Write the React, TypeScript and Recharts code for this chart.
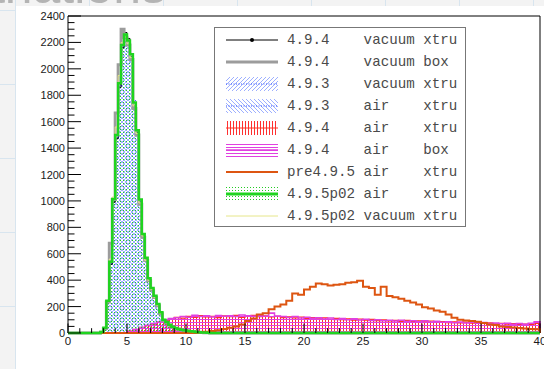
import React from 'react';
import { Area, ComposedChart, Legend, Line, ReferenceArea, XAxis, YAxis } from 'recharts';

const X_LABELS = [0, 5, 10, 15, 20, 25, 30, 35, 40];
const Y_LABELS = [0, 200, 400, 600, 800, 1000, 1200, 1400, 1600, 1800, 2000, 2200, 2400];
const X_MINOR = 1;
const Y_MINOR = 50;

// narrow peak, 0.25 wide bins from 2.75
const PEAK_START = 2.75;
const PEAK_BIN = 0.25;
const v494VacXtru = [6, 35, 230, 520, 990, 1470, 1860, 2160, 2275, 2230, 2090, 1720, 1520, 990, 735, 555, 405, 332, 276, 212, 150, 96, 80, 60, 45, 36, 30, 24, 20, 16, 12, 10, 8, 6, 4, 3, 2];
const v494VacBox = [6, 35, 235, 680, 1010, 1665, 2030, 2300, 2235, 2180, 2070, 1700, 1500, 975, 725, 548, 395, 326, 268, 206, 146, 94, 78, 58, 43, 35, 28, 22, 18, 14, 11, 9, 7, 5, 3, 2, 1];
const v493VacXtru = [6, 36, 232, 525, 995, 1480, 1870, 2165, 2245, 2205, 2100, 1760, 1525, 1000, 742, 562, 410, 336, 278, 216, 154, 98, 82, 61, 46, 37, 30, 24, 20, 16, 12, 10, 8, 6, 4, 3, 2];
const v493AirXtru = [5, 34, 228, 520, 990, 1475, 1865, 2160, 2240, 2200, 2095, 1735, 1515, 995, 738, 558, 405, 333, 275, 212, 150, 97, 80, 60, 45, 36, 29, 23, 19, 15, 11, 9, 7, 5, 3, 2, 1];
const v495p02AirXtru = [8, 40, 245, 540, 1015, 1500, 1890, 2180, 2260, 2215, 2110, 1745, 1535, 1010, 750, 570, 415, 340, 282, 220, 158, 100, 84, 63, 47, 38, 31, 25, 21, 17, 13, 11, 8, 6, 4, 3, 2];
const v495p02VacXtru = [6, 38, 240, 560, 1030, 1560, 1950, 2200, 2240, 2190, 2085, 1720, 1510, 985, 735, 550, 400, 330, 272, 210, 150, 95, 80, 60, 44, 35, 28, 22, 18, 14, 11, 9, 7, 5, 3, 2, 1];

// broad air distributions, 0.5 wide bins
const WIDE_BIN = 0.5;
const AIR_START = 5;
const v494AirXtru = [14, 28, 42, 55, 68, 82, 96, 104, 118, 112, 126, 118, 131, 122, 127, 116, 129, 124, 133, 119, 128, 134, 124, 129, 121, 126, 116, 123, 114, 121, 110, 117, 107, 114, 104, 111, 101, 108, 98, 106, 97, 103, 93, 99, 91, 96, 88, 95, 87, 92, 85, 91, 83, 87, 79, 85, 77, 83, 75, 80, 73, 77, 69, 73, 67, 71, 65, 68, 63, 72];
const v494AirBox = [12, 25, 40, 58, 72, 85, 100, 110, 115, 124, 120, 134, 125, 130, 121, 133, 126, 131, 124, 137, 130, 126, 135, 127, 152, 129, 124, 118, 125, 113, 120, 112, 116, 106, 113, 103, 110, 100, 107, 99, 104, 95, 101, 93, 97, 90, 96, 88, 93, 86, 92, 84, 89, 81, 86, 78, 84, 76, 81, 74, 79, 71, 76, 70, 73, 67, 72, 66, 74, 86];
const PRE_START = 11;
const pre495AirXtru = [5, 10, 15, 20, 30, 40, 50, 65, 90, 110, 140, 150, 180, 200, 215, 245, 300, 290, 330, 350, 375, 370, 360, 365, 370, 380, 385, 395, 350, 340, 290, 350, 280, 270, 260, 245, 230, 215, 195, 185, 170, 160, 140, 115, 100, 95, 90, 85, 75, 65, 60, 50, 45, 42, 38, 35, 30, 28];

const LEGEND_ROWS = [
  { label: '4.9.4    vacuum xtru', kind: 'black' },
  { label: '4.9.4    vacuum box', kind: 'gray' },
  { label: '4.9.3    vacuum xtru', kind: 'blueFwd' },
  { label: '4.9.3    air    xtru', kind: 'blueBack' },
  { label: '4.9.4    air    xtru', kind: 'red' },
  { label: '4.9.4    air    box', kind: 'magenta' },
  { label: 'pre4.9.5 air    xtru', kind: 'orange' },
  { label: '4.9.5p02 air    xtru', kind: 'green' },
  { label: '4.9.5p02 vacuum xtru', kind: 'yellow' },
];

const BLUE = '#2a4dff';
const RED = '#ff3322';
const MAGENTA = '#e040e0';
const ORANGE = '#dd5511';
const GREEN = '#1fd41f';
const GRAY = '#9c9c9c';
const YELLOW = '#e6e68a';

function hist(start: number, bin: number, values: number[]) {
  const pts = [{ x: 0, y: 0 }];
  values.forEach((v, i) => pts.push({ x: start + i * bin, y: v }));
  const end = start + values.length * bin;
  pts.push({ x: end, y: 0 });
  if (end < 40) pts.push({ x: 40, y: 0 });
  return pts;
}

const xTicks: number[] = [];
for (let v = 0; v <= 40; v += X_MINOR) xTicks.push(v);
const yTicks: number[] = [];
for (let v = 0; v <= 2400; v += Y_MINOR) yTicks.push(v);

const GAP = 2;
const AXIS_FONT = '"Liberation Sans", Arial, sans-serif';

function YTick(props: any) {
  const { x, y, payload } = props;
  const v = payload.value as number;
  const major = Y_LABELS.includes(v);
  const ax = x + GAP;
  return (
    <g>
      <line x1={ax} x2={ax + (major ? 13 : 6.5)} y1={y} y2={y} stroke="#000" />
      {major && (
        <text x={x - 1} y={y + 4} textAnchor="end" fontSize={11} fontFamily={AXIS_FONT} fill="#1a1a1a">
          {v}
        </text>
      )}
    </g>
  );
}

function XTick(props: any) {
  const { x, y, payload } = props;
  const v = payload.value as number;
  const major = X_LABELS.includes(v);
  const ay = y - GAP;
  return (
    <g>
      <line x1={x} x2={x} y1={ay} y2={ay - (major ? 9.5 : 4.8)} stroke="#000" />
      {major && (
        <text x={x} y={ay + 12} textAnchor="middle" fontSize={11.5} fontFamily={AXIS_FONT} fill="#1a1a1a">
          {v}
        </text>
      )}
    </g>
  );
}

function Symbol({ kind }: { kind: string }) {
  const w = 52;
  const h = 14;
  const mid = 7;
  let body: React.ReactNode = null;
  if (kind === 'black') {
    body = (
      <>
        <line x1={0} x2={w} y1={mid} y2={mid} stroke="#000" />
        <circle cx={w / 2} cy={mid} r={2} fill="#000" />
      </>
    );
  } else if (kind === 'gray') {
    body = <line x1={0} x2={w} y1={mid} y2={mid} stroke={GRAY} strokeWidth={3} />;
  } else if (kind === 'blueFwd' || kind === 'blueBack') {
    body = (
      <>
        <rect x={0} y={0} width={w} height={h} fill={kind === 'blueFwd' ? 'url(#hFwd)' : 'url(#hBack)'} />
        <line x1={0} x2={w} y1={mid} y2={mid} stroke={BLUE} strokeDasharray="1 1.5" />
      </>
    );
  } else if (kind === 'red') {
    body = (
      <>
        <rect x={0} y={0} width={w} height={h} fill="url(#hVert)" />
        <line x1={0} x2={w} y1={mid} y2={mid} stroke={RED} />
      </>
    );
  } else if (kind === 'magenta') {
    body = (
      <>
        <rect x={0} y={0} width={w} height={h} fill="url(#hHoriz)" />
        <line x1={0} x2={w} y1={mid} y2={mid} stroke={MAGENTA} strokeWidth={1.5} />
      </>
    );
  } else if (kind === 'orange') {
    body = <line x1={0} x2={w} y1={mid} y2={mid} stroke={ORANGE} strokeWidth={2} />;
  } else if (kind === 'green') {
    body = (
      <>
        <rect x={0} y={0} width={w} height={h} fill="url(#dots)" />
        <line x1={0} x2={w} y1={mid} y2={mid} stroke={GREEN} strokeWidth={3} />
      </>
    );
  } else {
    body = <line x1={0} x2={w} y1={mid} y2={mid} stroke={YELLOW} />;
  }
  return (
    <svg width={w} height={h} style={{ display: 'block' }}>
      {body}
    </svg>
  );
}

function HistLegend() {
  return (
    <div
      style={{
        width: 252,
        height: 200,
        boxSizing: 'border-box',
        border: '1px solid #777',
        background: '#fff',
        paddingTop: 1,
      }}
    >
      {LEGEND_ROWS.map((row) => (
        <div key={row.label} style={{ display: 'flex', alignItems: 'center', height: 22 }}>
          <div style={{ marginLeft: 11, width: 52 }}>
            <Symbol kind={row.kind} />
          </div>
          <span
            style={{
              marginLeft: 9,
              whiteSpace: 'pre',
              fontFamily: '"Liberation Mono", "Courier New", monospace',
              fontSize: 14.2,
              color: '#4a4a4a',
              lineHeight: '22px',
            }}
          >
            {row.label}
          </span>
        </div>
      ))}
    </div>
  );
}

export default function App() {
  const greenPts = hist(PEAK_START, PEAK_BIN, v495p02AirXtru);
  return (
    <div
      style={{
        position: 'fixed',
        left: 0,
        top: 0,
        width: 544,
        height: 369,
        overflow: 'hidden',
        backgroundColor: '#f3f3f3',
        backgroundImage:
          'linear-gradient(#d8e5ef 1px, transparent 1px), linear-gradient(90deg, #d8e5ef 1px, transparent 1px)',
        backgroundSize: '74px 74px',
        backgroundPosition: '15px 10px',
      }}
    >
      <svg width={544} height={369} style={{ position: 'absolute', left: 0, top: 0 }}>
        <text x={166} y={3} textAnchor="end" fontSize={50} fontFamily={AXIS_FONT} fill="#b4b4b4">
          Variations
        </text>
      </svg>
      <div style={{ position: 'absolute', left: 16, top: 6, right: 0, bottom: 0, background: '#fff' }} />
      <div style={{ position: 'absolute', left: 0, top: 0 }}>
        <ComposedChart width={544} height={369} margin={{ top: 16, right: 4, bottom: 0, left: 8 }}>
          <defs>
            <pattern id="hFwd" patternUnits="userSpaceOnUse" width="4" height="4">
              <path d="M-1,1 l2,-2 M0,4 l4,-4 M3,5 l2,-2" stroke="#5a78ff" strokeWidth="0.6" />
            </pattern>
            <pattern id="hBack" patternUnits="userSpaceOnUse" width="4" height="4">
              <path d="M-1,3 l2,2 M0,0 l4,4 M3,-1 l2,2" stroke="#5a78ff" strokeWidth="0.6" />
            </pattern>
            <pattern id="hVert" patternUnits="userSpaceOnUse" width="3" height="3">
              <rect x="1" y="0" width="1" height="3" fill="#ff3030" shapeRendering="crispEdges" />
            </pattern>
            <pattern id="hHoriz" patternUnits="userSpaceOnUse" width="3" height="3">
              <rect x="0" y="1" width="3" height="1" fill={MAGENTA} shapeRendering="crispEdges" />
            </pattern>
            <pattern id="dots" patternUnits="userSpaceOnUse" width="3" height="3">
              <rect x="0" y="0" width="1" height="1" fill="#22cc22" shapeRendering="crispEdges" />
            </pattern>
          </defs>
          <XAxis
            type="number"
            dataKey="x"
            domain={[0, 40]}
            ticks={xTicks}
            interval={0}
            height={36}
            tickSize={0}
            tickMargin={GAP}
            axisLine={false}
            tickLine={false}
            tick={(p: any) => <XTick {...p} />}
          />
          <YAxis
            type="number"
            dataKey="y"
            domain={[0, 2400]}
            ticks={yTicks}
            interval={0}
            width={60}
            tickSize={0}
            tickMargin={GAP}
            axisLine={false}
            tickLine={false}
            tick={(p: any) => <YTick {...p} />}
          />
          <Area data={hist(PEAK_START, PEAK_BIN, v493VacXtru)} dataKey="y" type="stepAfter" stroke={BLUE} strokeDasharray="1 1.5" fill="url(#hFwd)" fillOpacity={1} isAnimationActive={false} />
          <Area data={hist(PEAK_START, PEAK_BIN, v493AirXtru)} dataKey="y" type="stepAfter" stroke={BLUE} strokeDasharray="1 1.5" fill="url(#hBack)" fillOpacity={1} isAnimationActive={false} />
          <Area data={hist(AIR_START, WIDE_BIN, v494AirXtru)} dataKey="y" type="stepAfter" stroke={RED} strokeWidth={1.2} fill="url(#hVert)" fillOpacity={1} isAnimationActive={false} />
          <Area data={hist(AIR_START, WIDE_BIN, v494AirBox)} dataKey="y" type="stepAfter" stroke={MAGENTA} strokeWidth={1.5} fill="url(#hHoriz)" fillOpacity={1} isAnimationActive={false} />
          <Area data={greenPts} dataKey="y" type="stepAfter" stroke="none" fill="url(#dots)" fillOpacity={1} isAnimationActive={false} />
          <Line data={hist(PEAK_START, PEAK_BIN, v494VacXtru)} dataKey="y" type="stepAfter" stroke="#000" strokeWidth={1} dot={false} isAnimationActive={false} />
          <Line data={hist(PEAK_START, PEAK_BIN, v494VacBox)} dataKey="y" type="stepAfter" stroke={GRAY} strokeWidth={3} dot={false} isAnimationActive={false} />
          <Line data={hist(PRE_START, WIDE_BIN, pre495AirXtru)} dataKey="y" type="stepAfter" stroke={ORANGE} strokeWidth={2} dot={false} isAnimationActive={false} />
          <Line data={hist(PEAK_START, PEAK_BIN, v495p02VacXtru)} dataKey="y" type="stepAfter" stroke={YELLOW} strokeWidth={1} dot={false} isAnimationActive={false} />
          <Line data={greenPts} dataKey="y" type="stepAfter" stroke={GREEN} strokeWidth={2.5} dot={false} isAnimationActive={false} />
          <ReferenceArea x1={0} x2={40} y1={0} y2={2400} fill="none" stroke="#000" strokeWidth={1} ifOverflow="visible" />
          <Legend
            layout="horizontal"
            verticalAlign="middle"
            align="center"
            wrapperStyle={{ left: 214, top: 27, width: 252, height: 200 }}
            content={() => <HistLegend />}
          />
        </ComposedChart>
      </div>
    </div>
  );
}
